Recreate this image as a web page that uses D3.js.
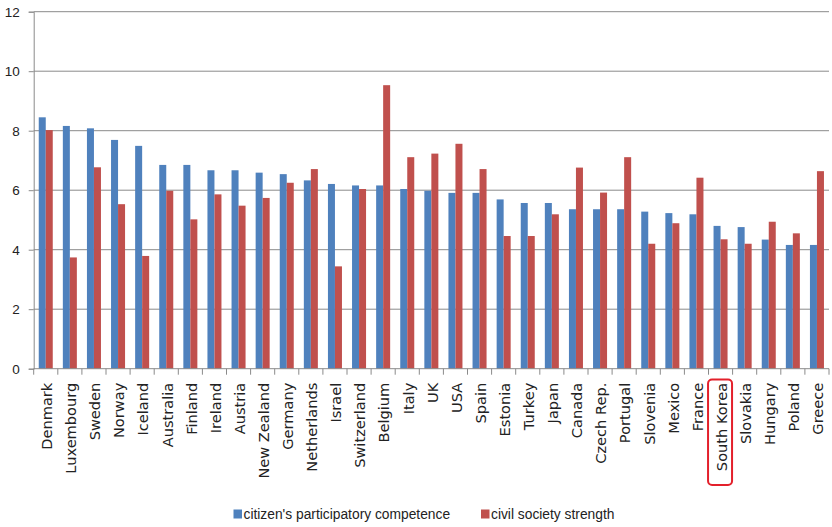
<!DOCTYPE html>
<html>
<head>
<meta charset="utf-8">
<script src="https://cdn.jsdelivr.net/npm/d3@7"></script>
<style>
  html, body { margin: 0; padding: 0; background: #fff; }
  svg { display: block; }
</style>
</head>
<body>
<svg id="chart" width="832" height="527"></svg>
<script>
// Countries in ranking order
const countries = ["Denmark","Luxembourg","Sweden","Norway","Iceland","Australia","Finland","Ireland","Austria","New Zealand","Germany","Netherlands","Israel","Switzerland","Belgium","Italy","UK","USA","Spain","Estonia","Turkey","Japan","Canada","Czech Rep.","Portugal","Slovenia","Mexico","France","South Korea","Slovakia","Hungary","Poland","Greece"];

// Series values
const competence = [8.45,8.16,8.08,7.69,7.49,6.85,6.85,6.67,6.67,6.59,6.54,6.33,6.21,6.16,6.16,6.04,5.98,5.91,5.91,5.69,5.57,5.57,5.36,5.36,5.36,5.28,5.23,5.19,4.80,4.76,4.34,4.16,4.16];
const civilSociety = [8.02,3.74,6.77,5.53,3.79,5.98,5.02,5.86,5.48,5.74,6.25,6.71,3.44,6.04,9.53,7.11,7.23,7.56,6.71,4.46,4.46,5.19,6.76,5.92,7.11,4.20,4.89,6.42,4.35,4.20,4.94,4.55,6.64];

const seriesNames = ["citizen's participatory competence", "civil society strength"];
const seriesColors = ["#4F81BD", "#C0504D"];
const yTicks = [0, 2, 4, 6, 8, 10, 12];
const highlighted = "South Korea";

const svg = d3.select("#chart");
const plotLeft = 33.7, plotRight = 829, plotTop = 11.7, plotBottom = 368.7;

const x = d3.scaleBand().domain(countries).range([plotLeft, plotRight]).paddingInner(0).paddingOuter(0);
const xs = d3.scaleBand().domain([0, 1]).range([0, x.bandwidth()]).paddingInner(0).paddingOuter(0.72);
const y = d3.scaleLinear().domain([0, 12]).range([plotBottom, plotTop]);

// Horizontal gridlines
svg.append("g")
  .selectAll("line")
  .data(yTicks.filter(d => d > 0))
  .join("line")
  .attr("x1", plotLeft).attr("x2", plotRight)
  .attr("y1", d => y(d)).attr("y2", d => y(d))
  .attr("stroke", "#8a8a8a").attr("stroke-width", 1);

// Bars
const rows = countries.map((c, i) => ({ c, v: [competence[i], civilSociety[i]] }));
const groups = svg.append("g").selectAll("g")
  .data(rows).join("g")
  .attr("transform", d => `translate(${x(d.c)},0)`);
groups.selectAll("rect")
  .data(d => d.v.map((v, k) => ({ k, v })))
  .join("rect")
  .attr("x", d => xs(d.k))
  .attr("width", xs.bandwidth())
  .attr("y", d => y(d.v))
  .attr("height", d => y(0) - y(d.v))
  .attr("fill", d => seriesColors[d.k]);

// Y axis
const yAxis = d3.axisLeft(y).tickValues(yTicks).tickSize(5).tickPadding(9).tickFormat(d3.format("d"));
const gy = svg.append("g").attr("transform", `translate(${plotLeft},0)`).call(yAxis);
gy.select(".domain").attr("stroke", "#8a8a8a");
gy.selectAll(".tick line").attr("stroke", "#8a8a8a");
gy.selectAll(".tick text")
  .attr("font-family", "'Liberation Sans', Arial, sans-serif")
  .attr("font-size", "13.5px")
  .attr("fill", "#222");

// X axis with tick marks at category boundaries
const gx = svg.append("g").attr("transform", `translate(0,${plotBottom})`);
gx.append("line").attr("x1", plotLeft).attr("x2", plotRight).attr("stroke", "#8a8a8a");
gx.selectAll("line.tk")
  .data(countries.concat([null]))
  .join("line").attr("class", "tk")
  .attr("x1", (d, i) => plotLeft + i * x.step()).attr("x2", (d, i) => plotLeft + i * x.step())
  .attr("y1", 0).attr("y2", 6)
  .attr("stroke", "#8a8a8a");
gx.selectAll("text")
  .data(countries)
  .join("text")
  .attr("transform", d => `translate(${x(d) + x.bandwidth() / 2 + 1},14) rotate(-90)`)
  .attr("text-anchor", "end")
  .attr("dy", "0.36em")
  .attr("font-family", "'DejaVu Sans', Verdana, sans-serif")
  .attr("font-size", "14.6px")
  .attr("fill", "#222")
  .text(d => d);

// Highlight box around a label
const hx = x(highlighted) + x.bandwidth() / 2;
svg.append("rect")
  .attr("x", hx - 12.5).attr("y", 379.5)
  .attr("width", 24).attr("height", 105.5)
  .attr("rx", 4).attr("ry", 4)
  .attr("fill", "none").attr("stroke", "#e3202b").attr("stroke-width", 2);

// Legend
const legendItems = [{ x: 233.5, k: 0 }, { x: 481, k: 1 }];
const lg = svg.append("g");
lg.selectAll("rect").data(legendItems).join("rect")
  .attr("x", d => d.x).attr("y", 509.5).attr("width", 8.5).attr("height", 9)
  .attr("fill", d => seriesColors[d.k]);
lg.selectAll("text").data(legendItems).join("text")
  .attr("x", d => d.x + 10).attr("y", 514)
  .attr("dy", "0.35em")
  .attr("font-family", "'Liberation Sans', Arial, sans-serif")
  .attr("font-size", "13.8px")
  .attr("fill", "#222")
  .text(d => seriesNames[d.k]);
</script>
</body>
</html>
